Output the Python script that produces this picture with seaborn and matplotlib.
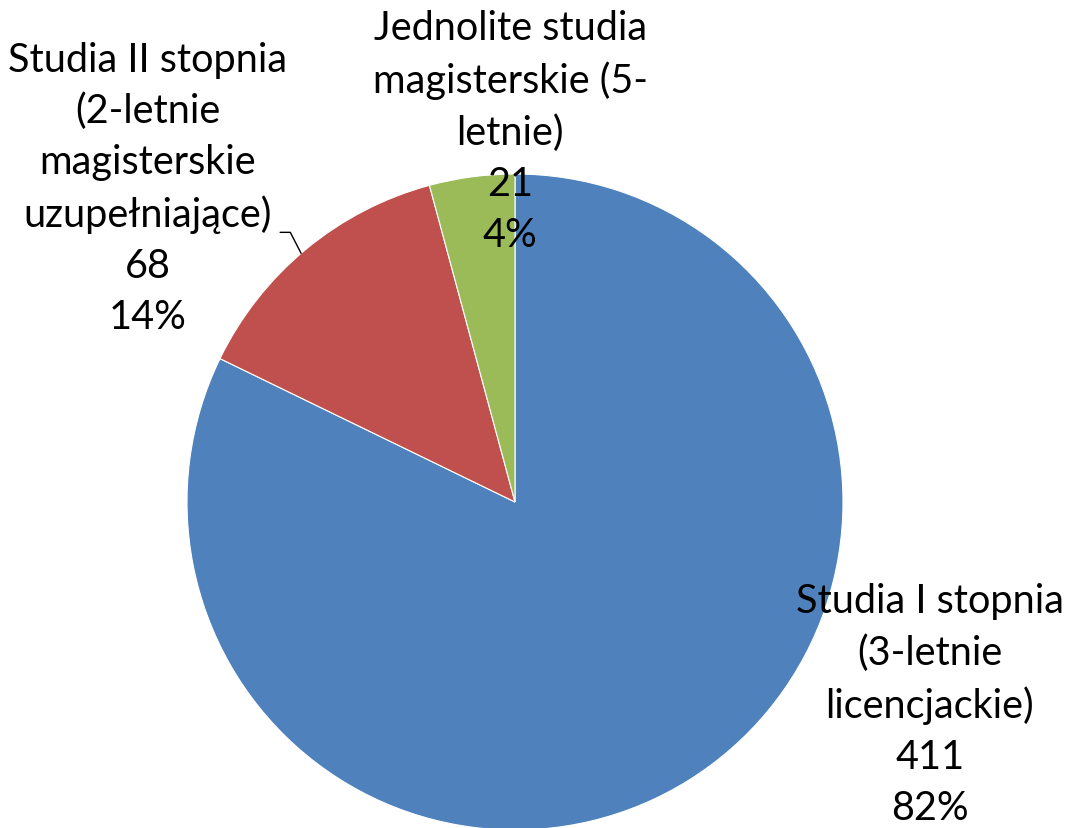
import numpy as np
import matplotlib.pyplot as plt
import seaborn as sns

labels = [
    "Studia I stopnia\n(3-letnie\nlicencjackie)",
    "Studia II stopnia\n(2-letnie\nmagisterskie\nuzupełniające)",
    "Jednolite studia\nmagisterskie (5-\nletnie)",
]
counts = [411, 68, 21]
colors = ["#4F81BD", "#C0504D", "#9BBB59"]

sns.set_theme(style="white")
plt.rcParams["font.family"] = ["Lato", "DejaVu Sans"]

fig = plt.figure(figsize=(10.68, 8.29), dpi=100)
W, H = 1068, 829
cx, cy, r = 515, 503, 328
ax = fig.add_axes([(cx - r) / W, (H - cy - r) / H, 2 * r / W, 2 * r / H])
ax.axis("off")

wedges, _ = ax.pie(
    counts,
    colors=colors,
    startangle=90,
    counterclock=False,
    radius=1,
    wedgeprops=dict(edgecolor="white", linewidth=0.8),
)
ax.set_xlim(-1, 1)
ax.set_ylim(-1, 1)

total = sum(counts)
label_pos = [(1.265, -0.616), (-1.119, 0.958), (-0.015, 1.131)]
for lab, n, (x, y) in zip(labels, counts, label_pos):
    txt = f"{lab}\n{n}\n{round(100 * n / total)}%"
    ax.text(x, y, txt, ha="center", va="center", fontsize=28.5,
            linespacing=1.46, color="black")

# leader line for the red slice
w = wedges[1]
mid = np.deg2rad((w.theta1 + w.theta2) / 2 + 1.1)
ex, ey = np.cos(mid), np.sin(mid)
ax.plot([ex - 0.064, ex - 0.033, ex], [ey + 0.064, ey + 0.064, ey],
        color="black", linewidth=1, clip_on=False)

fig.savefig("out.png", dpi=100)
